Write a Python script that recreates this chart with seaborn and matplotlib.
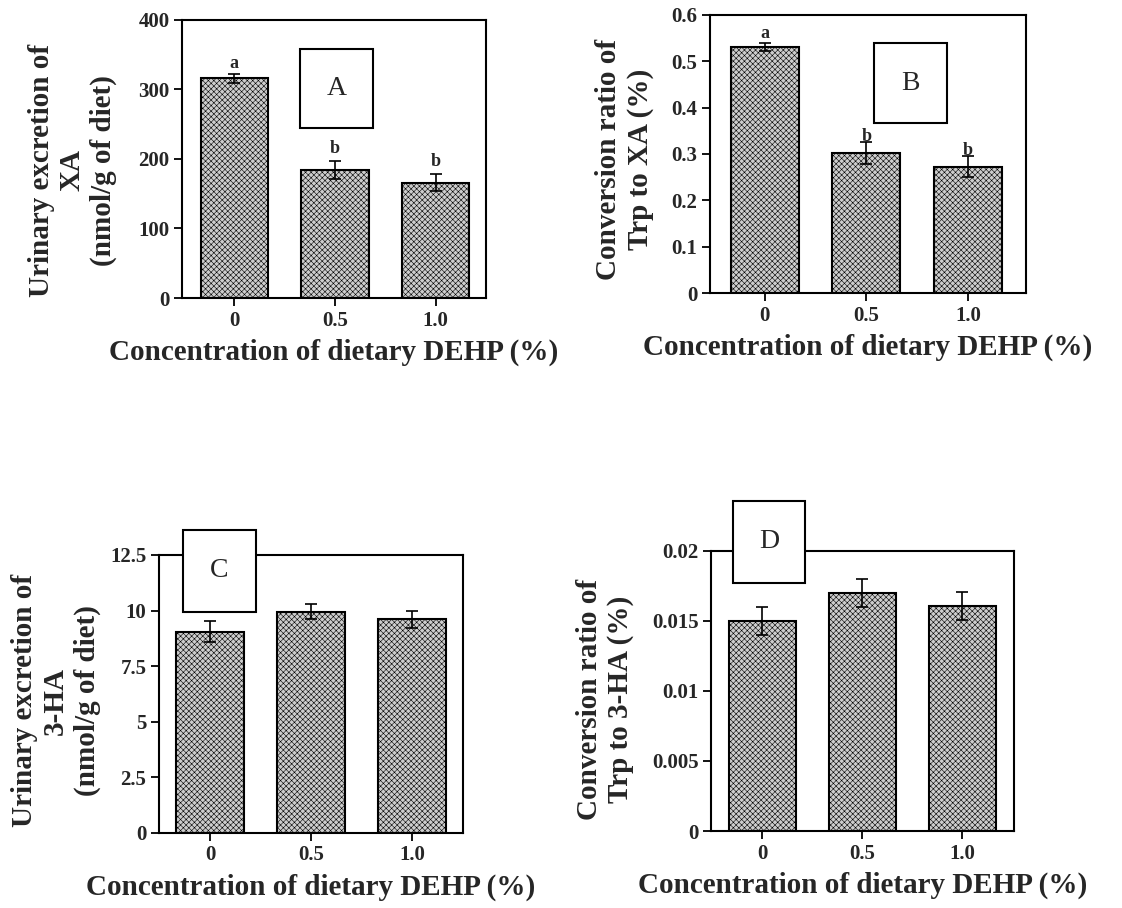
import matplotlib

matplotlib.use("Agg")
import matplotlib.pyplot as plt  # noqa: E402
import pandas as pd  # noqa: E402
import seaborn as sns  # noqa: E402
from matplotlib.patches import Rectangle  # noqa: E402

# ── data ────────────────────────────────────────────────────────────────────
DOSES = ["0", "0.5", "1.0"]

XA_EXCRETION = [316, 184, 166]
XA_EXCRETION_ERR = [6, 13, 12]
XA_RATIO = [0.531, 0.302, 0.273]
XA_RATIO_ERR = [0.009, 0.023, 0.023]
HA_EXCRETION = [9.05, 9.95, 9.6]
HA_EXCRETION_ERR = [0.46, 0.34, 0.40]
HA_RATIO = [0.0150, 0.0170, 0.0161]
HA_RATIO_ERR = [0.0010, 0.0010, 0.0010]

SIG_XA = ["a", "b", "b"]

TICKS_A = [0, 100, 200, 300, 400]
TICKLABELS_A = ["0", "100", "200", "300", "400"]
TICKS_B = [0, 0.1, 0.2, 0.3, 0.4, 0.5, 0.6]
TICKLABELS_B = ["0", "0.1", "0.2", "0.3", "0.4", "0.5", "0.6"]
TICKS_C = [0, 2.5, 5, 7.5, 10, 12.5]
TICKLABELS_C = ["0", "2.5", "5", "7.5", "10", "12.5"]
TICKS_D = [0, 0.005, 0.01, 0.015, 0.02]
TICKLABELS_D = ["0", "0.005", "0.01", "0.015", "0.02"]

YLABEL_A = "Urinary excretion of\nXA\n(nmol/g of diet)"
YLABEL_B = "Conversion ratio of\nTrp to XA (%)"
YLABEL_C = "Urinary excretion of\n3-HA\n(nmol/g of diet)"
YLABEL_D = "Conversion ratio of\nTrp to 3-HA (%)"
XLABEL = "Concentration of dietary DEHP (%)"

# ── style ───────────────────────────────────────────────────────────────────
sns.set_theme(style="ticks")
plt.rcParams["font.family"] = ["Liberation Serif", "DejaVu Serif"]
plt.rcParams["hatch.linewidth"] = 0.4

BAR_FACE = "#cdcdcd"
HATCH = "xxxxxx"
LABEL_KW = dict(fontsize=21, fontweight="bold")


def draw_panel(ax, means, errs, ticks, ticklabels, ylabel, ylabel_pos,
               tag, tag_box, xlim, letters=None, letter_offsets=None):
    df = pd.DataFrame({"dose": DOSES, "value": means})
    sns.barplot(data=df, x="dose", y="value", color=BAR_FACE, saturation=1,
                width=0.67, edgecolor="black", linewidth=1.5, errorbar=None,
                ax=ax)
    for p in ax.patches:
        p.set_hatch(HATCH)
    ax.errorbar(x=range(len(DOSES)), y=means, yerr=errs, fmt="none",
                ecolor="black", elinewidth=1.2, capsize=4, capthick=1.2,
                zorder=4)

    ax.set_ylim(ticks[0], ticks[-1])
    ax.set_xlim(*xlim)
    ax.set_yticks(ticks)
    ax.set_yticklabels(ticklabels, fontsize=15, fontweight="bold")
    ax.set_xticks(range(len(DOSES)))
    ax.set_xticklabels(DOSES, fontsize=15, fontweight="bold")
    ax.tick_params(length=6, width=1.3, pad=3, color="black")
    for s in ax.spines.values():
        s.set_visible(True)
        s.set_linewidth(1.5)
        s.set_color("black")

    ax.set_ylabel("")
    ax.set_xlabel(XLABEL, labelpad=6, **LABEL_KW)
    ax.text(ylabel_pos[0], ylabel_pos[1], ylabel, rotation=90, ha="center",
            va="center", multialignment="center", linespacing=1.2,
            transform=ax.transAxes, **LABEL_KW)

    x0, y0, x1, y1 = tag_box
    ax.add_patch(Rectangle((x0, y0), x1 - x0, y1 - y0, transform=ax.transAxes,
                           facecolor="white", edgecolor="black", linewidth=1.5,
                           clip_on=False, zorder=6))
    ax.text((x0 + x1) / 2, (y0 + y1) / 2, tag, transform=ax.transAxes,
            ha="center", va="center", fontsize=20, zorder=7)

    if letters:
        for i, (m, e, t) in enumerate(zip(means, errs, letters)):
            ax.annotate(t, xy=(i, m + e), xytext=(0, letter_offsets[i]),
                        textcoords="offset points", ha="center", va="center",
                        fontsize=13, fontweight="bold", zorder=5)


fig = plt.figure(figsize=(11.22, 9.08), dpi=100)
ax_a = fig.add_axes([0.1622, 0.6718, 0.2709, 0.3062])
ax_b = fig.add_axes([0.6328, 0.6773, 0.2816, 0.3062])
ax_c = fig.add_axes([0.1417, 0.0826, 0.2709, 0.3062])
ax_d = fig.add_axes([0.6337, 0.0848, 0.2701, 0.3084])

draw_panel(ax_a, XA_EXCRETION, XA_EXCRETION_ERR, TICKS_A, TICKLABELS_A,
           YLABEL_A, (-0.36, 0.46), "A", (0.387, 0.61, 0.63, 0.896),
           (-0.52, 2.5), SIG_XA, [8, 9, 9])
draw_panel(ax_b, XA_RATIO, XA_RATIO_ERR, TICKS_B, TICKLABELS_B,
           YLABEL_B, (-0.27, 0.48), "B", (0.52, 0.61, 0.75, 0.90),
           (-0.54, 2.57), SIG_XA, [7, 4, 4])
draw_panel(ax_c, HA_EXCRETION, HA_EXCRETION_ERR, TICKS_C, TICKLABELS_C,
           YLABEL_C, (-0.34, 0.475), "C", (0.079, 0.795, 0.319, 1.09),
           (-0.505, 2.5))
draw_panel(ax_d, HA_RATIO, HA_RATIO_ERR, TICKS_D, TICKLABELS_D,
           YLABEL_D, (-0.35, 0.47), "D", (0.073, 0.886, 0.31, 1.18),
           (-0.51, 2.52))

fig.savefig("out.png", dpi=100)
